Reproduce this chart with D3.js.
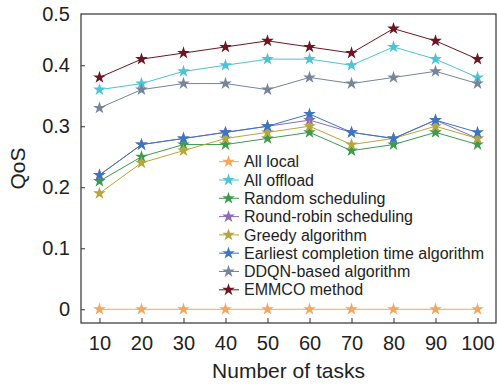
<!DOCTYPE html>
<html>
<head>
<meta charset="utf-8">
<script src="https://cdn.jsdelivr.net/npm/d3@7"></script>
<style>
  body { margin: 0; background: #fff; }
  text { font-family: "Liberation Sans", Arial, sans-serif; fill: #222; }
</style>
</head>
<body>
<div id="chart"></div>
<script>
const width = 497
const height = 385
const margin = { top: 14, bottom: 62, left: 81, right: 1 }

// Datos
const tasks = [10, 20, 30, 40, 50, 60, 70, 80, 90, 100]
const allLocal = [0, 0, 0, 0, 0, 0, 0, 0, 0, 0]
const allOffload = [0.36, 0.37, 0.39, 0.40, 0.41, 0.41, 0.40, 0.43, 0.41, 0.38]
const randomSched = [0.21, 0.25, 0.27, 0.27, 0.28, 0.29, 0.26, 0.27, 0.29, 0.27]
const roundRobin = [0.22, 0.27, 0.28, 0.29, 0.30, 0.31, 0.29, 0.28, 0.31, 0.28]
const greedy = [0.19, 0.24, 0.26, 0.28, 0.29, 0.30, 0.27, 0.28, 0.30, 0.28]
const earliest = [0.22, 0.27, 0.28, 0.29, 0.30, 0.32, 0.29, 0.28, 0.31, 0.29]
const ddqn = [0.33, 0.36, 0.37, 0.37, 0.36, 0.38, 0.37, 0.38, 0.39, 0.37]
const emmco = [0.38, 0.41, 0.42, 0.43, 0.44, 0.43, 0.42, 0.46, 0.44, 0.41]
const yTicks = [0, 0.1, 0.2, 0.3, 0.4, 0.5]

const series = [
  { name: "All local", values: allLocal, color: "#f6a55c" },
  { name: "All offload", values: allOffload, color: "#4bc4d6" },
  { name: "Random scheduling", values: randomSched, color: "#3c9b4c" },
  { name: "Round-robin scheduling", values: roundRobin, color: "#8b6bb9" },
  { name: "Greedy algorithm", values: greedy, color: "#b7a63c" },
  { name: "Earliest completion time algorithm", values: earliest, color: "#3b76c4" },
  { name: "DDQN-based algorithm", values: ddqn, color: "#76859a" },
  { name: "EMMCO method", values: emmco, color: "#6e1523" },
]

const svg = d3.select("#chart").append("svg")
  .attr("width", width)
  .attr("height", height)

const innerW = width - margin.left - margin.right
const innerH = height - margin.top - margin.bottom

// Escalas (clamp para que 0.5 quede en el borde superior como en el original)
const x = d3.scaleLinear().domain([5.6, 104.4]).range([0, innerW])
const y = d3.scaleLinear().domain([-0.0225, 0.484]).range([innerH, 0]).clamp(true)

const g = svg.append("g").attr("transform", `translate(${margin.left}, ${margin.top})`)

// Ejes con ticks hacia dentro
const xAxis = d3.axisBottom(x).tickValues(tasks).tickSize(-5).tickPadding(13)
const yAxis = d3.axisLeft(y).tickValues(yTicks).tickSize(-4).tickPadding(11)
  .tickFormat(d => d === 0 ? "0" : d3.format(".1f")(d))

const xg = g.append("g").attr("transform", `translate(0, ${innerH})`).call(xAxis)
const yg = g.append("g").call(yAxis)
;[xg, yg].forEach(a => {
  a.select(".domain").remove()
  a.selectAll("line").attr("stroke", "#333")
  a.selectAll("text").style("font-size", "20px").attr("fill", "#222")
})
yg.selectAll(".tick").filter(d => d === 0.5).select("line").remove()

g.append("rect")
  .attr("width", innerW).attr("height", innerH)
  .attr("fill", "none").attr("stroke", "#333").attr("stroke-width", 1.2)

// Estrella
const star = d3.symbol().type(d3.symbolStar).size(50)

const line = d3.line()
  .x((d, i) => x(tasks[i]))
  .y(d => y(d))

series.forEach(s => {
  g.append("path")
    .datum(s.values)
    .attr("fill", "none")
    .attr("stroke", s.color)
    .attr("stroke-width", 1)
    .attr("d", line)
  g.selectAll(null)
    .data(s.values)
    .join("path")
      .attr("d", star)
      .attr("fill", s.color)
      .attr("transform", (d, i) => `translate(${x(tasks[i])}, ${y(d)})`)
})

// Leyenda
const legend = g.append("g").attr("transform", `translate(${138}, ${147.7})`)
series.forEach((s, i) => {
  const row = legend.append("g").attr("transform", `translate(0, ${i * 18.3})`)
  row.append("line").attr("x1", 0).attr("x2", 20).attr("stroke", s.color).attr("stroke-width", 1)
  row.append("path").attr("d", star).attr("fill", s.color).attr("transform", "translate(9.5, 0)")
  row.append("text").attr("x", 25).attr("dy", "0.35em")
    .style("font-size", "16px").text(s.name)
})

// Títulos
svg.append("text")
  .attr("x", margin.left + innerW / 2).attr("y", 378)
  .attr("text-anchor", "middle").style("font-size", "21px")
  .text("Number of tasks")

svg.append("text")
  .attr("transform", `translate(${25}, ${margin.top + innerH / 2}) rotate(-90)`)
  .attr("text-anchor", "middle").style("font-size", "21px")
  .text("QoS")
</script>
</body>
</html>
